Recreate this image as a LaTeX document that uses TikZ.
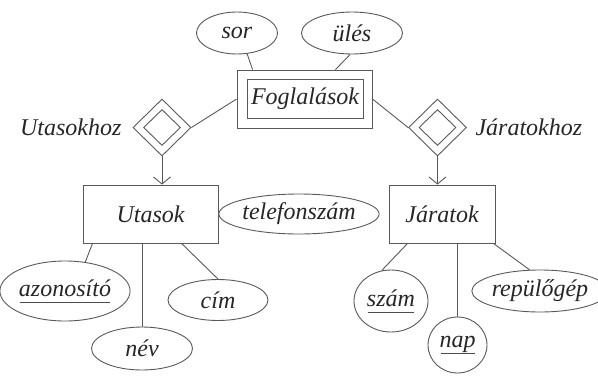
\documentclass[tikz,border=0pt]{standalone}
\usepackage{fontspec}
\setmainfont{Liberation Serif}
\usetikzlibrary{shapes.geometric,arrows.meta}
% key attribute: text with a rule below it
\newcommand\keyattr[1]{\setbox0\hbox{#1}\rlap{\hspace{1pt}\raisebox{-6pt}{\color{black!70}\rule{\dimexpr\wd0-2pt\relax}{0.7pt}}}\box0}
\begin{document}
\begin{tikzpicture}[x=1pt,y=-1pt,
  every node/.style={font=\fontsize{24}{28}\selectfont\itshape, text=black!85},
  ln/.style={draw=black!65, line width=0.9pt},
  entity/.style={ln, rectangle, inner sep=0pt},
  attr/.style={ln, ellipse, inner sep=0pt},
  rel/.style={ln, diamond, inner sep=0pt},
  arr/.style={ln, -{Straight Barb[length=7pt,width=17pt]}}
]
\useasboundingbox (0,0) rectangle (598,378);

% weak entity set Foglalások (double frame)
\node[entity, minimum width=116pt, minimum height=39pt] (fogl) at (305,98.5) {Foglalások};
\node[entity, minimum width=135pt, minimum height=58pt] (foglo) at (304.5,99) {};

% entity sets
\node[entity, minimum width=135pt, minimum height=58pt] (utasok) at (150.5,214) {Utasok};
\node[entity, minimum width=106pt, minimum height=58pt] (jaratok) at (442,214) {Járatok};

% supporting relationships (double diamonds)
\node[rel, minimum width=58pt, minimum height=57pt] (utd) at (162,127.5) {};
\node[rel, minimum width=37pt, minimum height=36pt] at (utd) {};
\node[rel, minimum width=58pt, minimum height=57pt] (jrd) at (437.5,127.5) {};
\node[rel, minimum width=37pt, minimum height=36pt] at (jrd) {};
\node[anchor=east] (utdlab) at (125,127) {Utasokhoz};
\node[anchor=west] (jrdlab) at (472,127) {Járatokhoz};

% attributes
\node[attr, minimum width=81pt, minimum height=42pt] (sor) at (237,33) {sor};
\node[attr, minimum width=101pt, minimum height=42pt] (ules) at (352,33) {ülés};
\node[attr, minimum width=128pt, minimum height=40pt] (tel) at (299,214) {telefonszám};
\node[attr, minimum width=115pt, minimum height=60pt] (azon) at (65,291) {\keyattr{azonosító}};
\node[attr, minimum width=101pt, minimum height=43pt] (nev) at (142,348.5) {név};
\node[attr, minimum width=100pt, minimum height=41pt] (cim) at (218,300) {cím};
\node[attr, minimum width=74pt, minimum height=62pt] (szam) at (391,301) {\keyattr{szám}};
\node[attr, minimum width=59pt, minimum height=56pt] (nap) at (457.5,345) {\keyattr{nap}\vphantom{n}};
\node[attr, minimum width=114pt, minimum height=42pt] (rep) at (540,291) {repülőgép};

% connectors
\draw[ln] (sor.-64) -- ([xshift=16pt]foglo.north west);
\draw[ln] (ules.-95) -- ([xshift=-37pt]foglo.north east);
\draw[ln] (foglo.west) -- (utd.east);
\draw[ln] (foglo.east) -- (jrd.west);
\draw[arr] (utd.south) -- (utd.south |- utasok.north);
\draw[arr] (jrd.south) -- (jrd.south |- jaratok.north);
\draw[ln] (utasok.east) -- (tel.west);
\draw[ln] ([xshift=10pt]utasok.south west) -- (azon.55);
\draw[ln] (nev.north |- utasok.south) -- (nev.north);
\draw[ln] ([xshift=99pt]utasok.south west) -- (cim.north);
\draw[ln] ([xshift=19pt]jaratok.south west) -- (szam.107);
\draw[ln] (nap.north |- jaratok.south) -- (nap.north);
\draw[ln] ([xshift=-2pt]jaratok.south east) -- (rep.116);
\end{tikzpicture}
\end{document}
